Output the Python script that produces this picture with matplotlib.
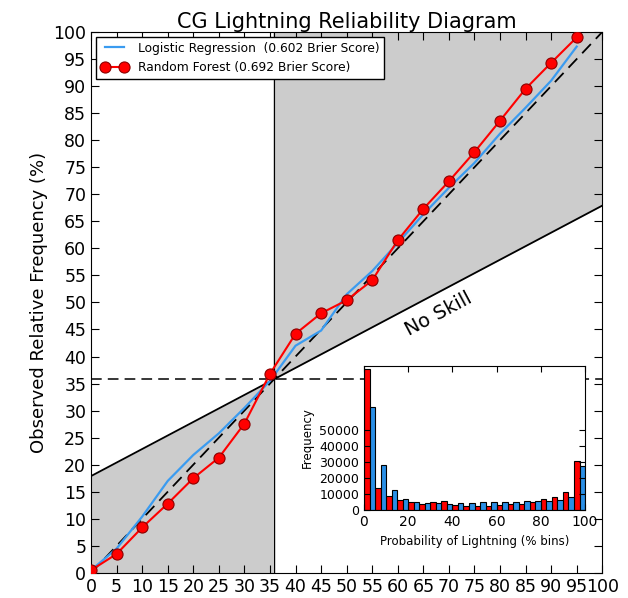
import numpy as np
import matplotlib
matplotlib.use('Agg')
import matplotlib.pyplot as plt

# reliability curves (forecast bins in %)
bins = [0, 5, 10, 15, 20, 25, 30, 35, 40, 45, 50, 55, 60, 65, 70, 75, 80, 85, 90, 95]
rf_obs = [0.5, 3.5, 8.4, 12.8, 17.5, 21.3, 27.6, 36.8, 44.2, 48.0, 50.4, 54.1, 61.5, 67.3, 72.4, 77.8, 83.6, 89.5, 94.3, 99.0]
lr_obs = [0.5, 4.5, 10.4, 17.0, 21.8, 25.8, 30.5, 35.5, 42.0, 44.8, 51.5, 55.8, 61.0, 66.3, 71.2, 75.8, 81.2, 86.0, 91.0, 97.3]

# histogram counts per 5% bin
rf_counts = [87800, 13800, 8600, 6200, 5100, 4100, 4900, 5500, 3300, 2300, 2300, 2700, 3300, 4000, 4100, 5300, 6800, 8000, 11200, 30700]
lr_counts = [64200, 28200, 12300, 7200, 5100, 4300, 4200, 4100, 4500, 4700, 5300, 5300, 5300, 5300, 5500, 5600, 5900, 6400, 7900, 27600]

clim = 35.8
rf_label = 'Random Forest (0.692 Brier Score)'
lr_label = 'Logistic Regression  (0.602 Brier Score)'

plt.rcParams['xtick.direction'] = 'in'
plt.rcParams['ytick.direction'] = 'in'
plt.rcParams['xtick.top'] = True
plt.rcParams['ytick.right'] = True
plt.rcParams['xtick.major.size'] = 6
plt.rcParams['ytick.major.size'] = 6

fig = plt.figure(figsize=(6.28, 5.98), dpi=100)
ax = fig.add_axes([0.145, 0.042, 0.814, 0.9045])

# skill zones
xs = np.linspace(0, 100, 201)
noskill = clim + 0.5 * (xs - clim)
ax.fill_between(xs, 0, noskill, where=xs <= clim, color='#cccccc', lw=0, zorder=0)
ax.fill_between(xs, noskill, 100, where=xs >= clim, color='#cccccc', lw=0, zorder=0)
ax.plot(xs, noskill, color='black', lw=1.3, zorder=1)
ax.axvline(clim, color='black', lw=1, zorder=1)
ax.axhline(clim, color='black', lw=1.1, ls='--', dashes=(7, 4), zorder=1)
ax.plot([0, 100], [0, 100], color='black', lw=1.3, ls='--', dashes=(7, 4), zorder=2)

ax.plot(bins, lr_obs, color='#3a9bf0', lw=1.6, label=lr_label, zorder=3)
ax.plot(bins, rf_obs, color='red', lw=1.5, marker='o', markersize=8,
        markeredgecolor='#8b0000', markeredgewidth=0.8, label=rf_label, zorder=4)

ax.text(68.0, 47.8, 'No Skill', rotation=28, fontsize=14, ha='center', va='center')

ax.set_xlim(0, 100)
ax.set_ylim(0, 100)
ax.set_xticks(range(0, 101, 5))
ax.set_yticks(range(0, 101, 5))
ax.tick_params(labelsize=12.5)
ax.set_ylabel('Observed Relative Frequency (%)', fontsize=13)
ax.set_title('CG Lightning Reliability Diagram', fontsize=15, pad=2)
leg = ax.legend(loc='upper left', fontsize=8.8, numpoints=2, fancybox=False,
                framealpha=1, edgecolor='black', borderaxespad=0.4, handlelength=2.2)
leg.get_frame().set_linewidth(1)

# inset histogram
ins = fig.add_axes([0.5796, 0.147, 0.352, 0.241])
left = np.array(bins, dtype=float)
ins.bar(left, rf_counts, width=2.5, align='edge', color='red', edgecolor='black', lw=0.8)
ins.bar(left + 2.5, lr_counts, width=2.5, align='edge', color='#2a8fe6', edgecolor='black', lw=0.8)
ins.set_xlim(0, 100)
ins.set_ylim(0, 90000)
ins.set_xticks(range(0, 101, 20))
ins.set_yticks(range(0, 50001, 10000))
ins.tick_params(labelsize=9, length=4)
ins.tick_params(axis='x', labelsize=10)
ins.set_xlabel('Probability of Lightning (% bins)', fontsize=8.5)
ins.set_ylabel('Frequency', fontsize=8.5)

fig.savefig('out.png', dpi=100, facecolor='white')
